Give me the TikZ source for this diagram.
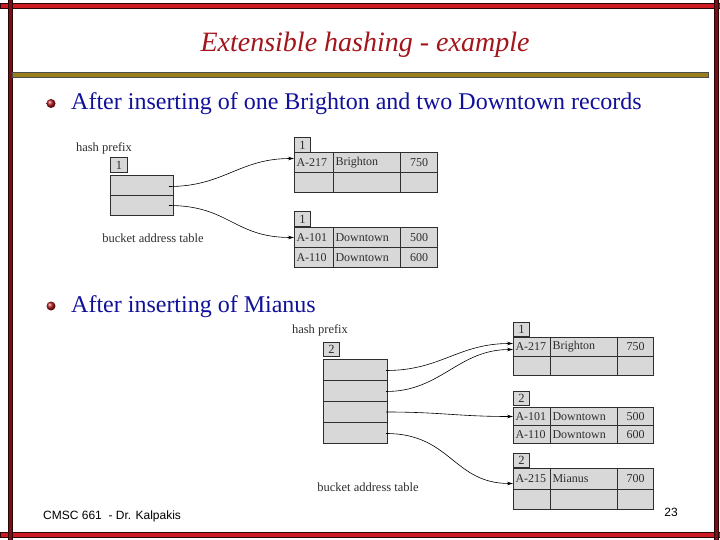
\documentclass[tikz,border=0pt]{standalone}
\usepackage{fontspec}
\setmainfont{Liberation Serif}
\newfontfamily\footfont{Liberation Sans}
\usetikzlibrary{arrows.meta}
\definecolor{titlered}{HTML}{A3141B}
\definecolor{bodyblue}{HTML}{10109A}
\definecolor{barred}{HTML}{CC1B22}
\definecolor{bardark}{HTML}{2A0606}
\definecolor{olive}{HTML}{9A7E1C}
\definecolor{cellgray}{HTML}{D8D8D8}
\definecolor{inkgray}{HTML}{2E2E2E}
\newcommand\mycell[7]{\node[cellbox,minimum width=#4pt,minimum height=#5pt,text width=#4pt-4pt,#7] (#1) at (#2,#3) {\mbox{#6}};}
\begin{document}
\begin{tikzpicture}[x=1pt,y=-1pt,
  cellbox/.style={draw=inkgray,line width=1pt,fill=cellgray,anchor=north west,inner xsep=2pt,inner ysep=0pt,align=left,font=\fontsize{12}{13}\selectfont,text=inkgray},
  lblbox/.style={draw=inkgray,line width=1pt,fill=cellgray,anchor=north west,inner sep=0pt,font=\fontsize{12.5}{13}\selectfont,text=inkgray},
  diagtext/.style={font=\fontsize{12.5}{13}\selectfont,text=inkgray,inner sep=0pt},
  ptr/.style={-{Stealth[length=6pt,width=3.5pt]},line width=0.6pt,draw=black},
  bodytext/.style={font=\fontsize{24}{28}\selectfont,text=bodyblue,anchor=base west,inner sep=0pt},
  bullet/.style={circle,minimum size=9pt,inner sep=0pt,ball color=barred!85!black}
]
\useasboundingbox (0,0) rectangle (720,540);
% frame bars
\fill[white] (0,0) rectangle (720,540);
\draw[bardark,fill=barred,line width=0.8pt] (0,3.5) rectangle (720,8);
\draw[bardark,fill=barred,line width=0.8pt] (0,532.5) rectangle (720,537);
\draw[bardark,fill=barred!60!black,line width=1pt] (8,0) rectangle (12,540);
\draw[bardark,fill=barred!60!black,line width=1pt] (714,0) rectangle (718,540);
\draw[black!70,fill=olive,line width=0.6pt] (12,72) rectangle (708,77);
% title
\node[font=\fontsize{28}{30}\selectfont\itshape,text=titlered,inner sep=0pt,anchor=base] (title) at (365,52) {Extensible hashing - example};
% bullets
\node[bullet] (b1) at (51,103.5) {};
\node[bodytext] (t1) at (71,110) {After inserting of one Brighton and two Downtown records};
\node[bullet] (b2) at (51,306) {};
\node[bodytext] (t2) at (71,312) {After inserting of Mianus};
% ---------- diagram 1 ----------
\node[diagtext] (hp1) at (104,148) {hash prefix};
\node[lblbox,minimum width=17pt,minimum height=15pt] (gd1) at (110,157) {1};
\mycell{h1a}{110}{175}{63}{20}{}{}
\mycell{h1b}{110}{195}{63}{20}{}{}
\node[diagtext] (bat1) at (153,238) {bucket address table};
% bucket Brighton
\node[lblbox,minimum width=16pt,minimum height=15pt] (l1a) at (294,137) {1};
\mycell{p1}{294}{152}{39}{20}{A-217}{}
\mycell{p2}{333}{152}{67}{20}{Brighton}{}
\mycell{p3}{400}{152}{37}{20}{750}{align=center}
\mycell{p4}{294}{172}{39}{20}{}{}
\mycell{p5}{333}{172}{67}{20}{}{}
\mycell{p6}{400}{172}{37}{20}{}{}
% bucket Downtown
\node[lblbox,minimum width=16pt,minimum height=15pt] (l1b) at (294,211) {1};
\mycell{q1}{294}{227}{39}{20}{A-101}{}
\mycell{q2}{333}{227}{67}{20}{Downtown}{}
\mycell{q3}{400}{227}{37}{20}{500}{align=center}
\mycell{q4}{294}{247}{39}{20}{A-110}{}
\mycell{q5}{333}{247}{67}{20}{Downtown}{}
\mycell{q6}{400}{247}{37}{20}{600}{align=center}
\draw[ptr] ([xshift=-5pt,yshift=-1pt]h1a.east) .. controls +(55,0) and +(-55,0) .. ([yshift=4pt]p1.west);
\draw[ptr] ([xshift=-5pt,yshift=0pt]h1b.east) .. controls +(60,0) and +(-60,0) .. (q1.west);
% ---------- diagram 2 ----------
\node[diagtext] (hp2) at (320,330) {hash prefix};
\node[lblbox,minimum width=16pt,minimum height=14pt] (gd2) at (323,342) {2};
\mycell{h2a}{323}{359}{64}{21}{}{}
\mycell{h2b}{323}{380}{64}{21}{}{}
\mycell{h2c}{323}{401}{64}{21}{}{}
\mycell{h2d}{323}{422}{64}{21}{}{}
\node[diagtext] (bat2) at (368,487) {bucket address table};
% bucket 1
\node[lblbox,minimum width=16pt,minimum height=14pt] (l2a) at (513,322) {1};
\mycell{r1}{513}{337}{37}{19}{A-217}{}
\mycell{r2}{550}{337}{67}{19}{Brighton}{}
\mycell{r3}{617}{337}{36}{19}{750}{align=center}
\mycell{r4}{513}{356}{37}{19}{}{}
\mycell{r5}{550}{356}{67}{19}{}{}
\mycell{r6}{617}{356}{36}{19}{}{}
% bucket 2
\node[lblbox,minimum width=16pt,minimum height=14pt] (l2b) at (513,391) {2};
\mycell{s1}{513}{407}{37}{18}{A-101}{}
\mycell{s2}{550}{407}{67}{18}{Downtown}{}
\mycell{s3}{617}{407}{36}{18}{500}{align=center}
\mycell{s4}{513}{425}{37}{18}{A-110}{}
\mycell{s5}{550}{425}{67}{18}{Downtown}{}
\mycell{s6}{617}{425}{36}{18}{600}{align=center}
% bucket 3
\node[lblbox,minimum width=16pt,minimum height=14pt] (l2c) at (513,453) {2};
\mycell{u1}{513}{468}{37}{21}{A-215}{}
\mycell{u2}{550}{468}{67}{21}{Mianus}{}
\mycell{u3}{617}{468}{36}{21}{700}{align=center}
\mycell{u4}{513}{489}{37}{20}{}{}
\mycell{u5}{550}{489}{67}{20}{}{}
\mycell{u6}{617}{489}{36}{20}{}{}
\draw[ptr] ([xshift=-2pt,yshift=-0.5pt]h2a.east) .. controls +(55,0) and +(-55,0) .. ([yshift=3.5pt]r1.west);
\draw[ptr] ([xshift=-2pt,yshift=-0.5pt]h2b.east) .. controls +(55,0) and +(-55,0) .. ([yshift=-2.5pt]r1.west);
\draw[ptr] ([xshift=-2pt]h2c.east) .. controls +(55,0) and +(-55,0) .. (s1.west);
\draw[ptr] ([xshift=-2pt,yshift=-0.5pt]h2d.east) .. controls +(65,0) and +(-60,0) .. ([yshift=-4.5pt]u1.west);
% footer
\node[font=\footfont\fontsize{12}{14}\selectfont,anchor=base west,inner sep=0pt] (foot) at (43,519.5) {CMSC 661 \ - Dr. Kalpakis};
\node[font=\footfont\fontsize{12}{14}\selectfont,anchor=base,inner sep=0pt] (pg) at (671,516.5) {23};
\end{tikzpicture}
\end{document}
